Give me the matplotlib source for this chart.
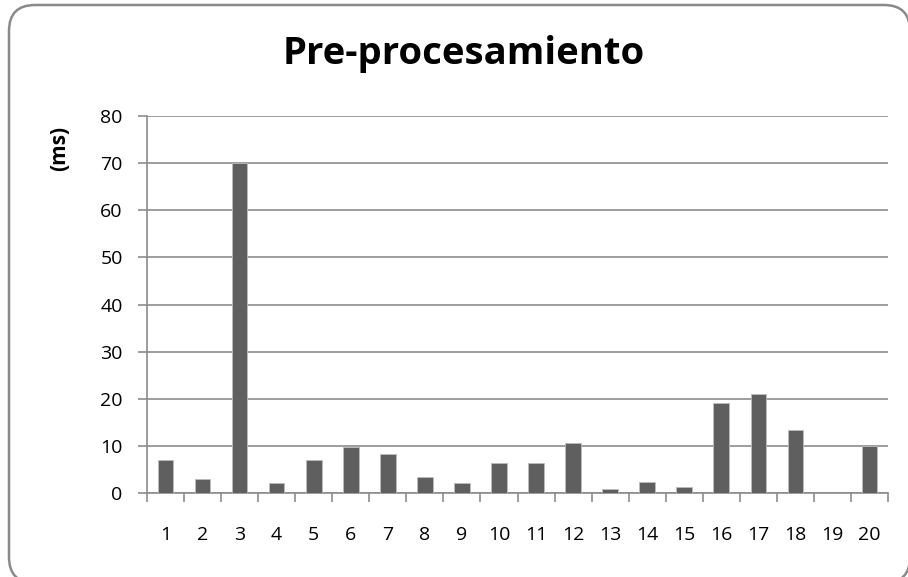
import matplotlib
matplotlib.use("Agg")
import matplotlib.pyplot as plt
from matplotlib.patches import FancyBboxPatch
from matplotlib.transforms import IdentityTransform

plt.rcParams['font.family'] = ['Open Sans', 'DejaVu Sans']

categories = [str(i) for i in range(1, 21)]
values = [7.0, 3.0, 70.0, 2.1, 6.9, 9.7, 8.3, 3.3, 2.2, 6.3,
          6.4, 10.6, 0.85, 2.35, 1.3, 19.0, 21.0, 13.3, 0.0, 10.0]
y_ticks = [0, 10, 20, 30, 40, 50, 60, 70, 80]

W, H = 908, 577
fig = plt.figure(figsize=(W / 100, H / 100), dpi=100)

# rounded outer frame (pixel units), drawn behind the axes
frame = FancyBboxPatch((9, -6), 901, H + 1,
                       boxstyle="round,pad=0,rounding_size=26",
                       transform=IdentityTransform(), facecolor='white',
                       edgecolor='#8a8a8a', linewidth=1.8, zorder=-1)
fig.patches.append(frame)

ax = fig.add_axes([147 / W, (H - 493) / H, 741 / W, 377 / H])
ax.set_facecolor('none')
ax.set_zorder(1)

x = list(range(len(categories)))
ax.bar(x, values, width=0.42, color='#5f5f5f', edgecolor='#bdbdbd',
       linewidth=0.6, zorder=3)

ax.set_xlim(-0.5, len(categories) - 0.5)
ax.set_ylim(0, 80)
ax.set_yticks(y_ticks)
ax.set_yticklabels([str(t) for t in y_ticks], fontsize=14)
ax.yaxis.grid(True, color='#8c8c8c', linewidth=1.2, zorder=1)

# category labels centered, tick marks on category boundaries
ax.set_xticks(x)
ax.set_xticklabels(categories, fontsize=14)
ax.tick_params(axis='x', which='major', length=0, pad=24)
ax.set_xticks([i - 0.5 for i in range(len(categories) + 1)], minor=True)
ax.tick_params(axis='x', which='minor', length=6.5, width=1.2, color='#8c8c8c',
               direction='out')
ax.tick_params(axis='y', length=6.5, width=1.2, color='#8c8c8c', pad=11)

for side in ['top', 'right']:
    ax.spines[side].set_visible(False)
for side in ['left', 'bottom']:
    ax.spines[side].set_color('#8c8c8c')
    ax.spines[side].set_linewidth(1.2)

fig.text(464 / W, 1 - 54 / H, 'Pre-procesamiento', ha='center', va='center',
         fontsize=27.5, fontweight='bold')
fig.text(60 / W, 1 - 148 / H, '(ms)', ha='center', va='center', rotation=90,
         fontsize=15, fontweight='bold')

fig.savefig('out.png', dpi=100)
